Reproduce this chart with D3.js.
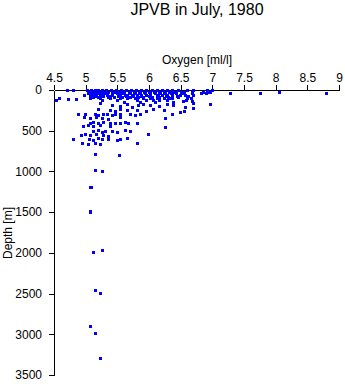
<!DOCTYPE html>
<html><head><meta charset="utf-8">
<script src="https://cdn.jsdelivr.net/npm/d3@7"></script>
<style>
body{margin:0;background:#fff;}
text{font-family:"Liberation Sans",Arial,sans-serif;fill:#000;}
</style></head>
<body><svg id="c" width="345" height="384"></svg>
<script>
const title = "JPVB in July, 1980";
const xLabel = "Oxygen [ml/l]";
const yLabel = "Depth [m]";
const xTicks = [4.5,5,5.5,6,6.5,7,7.5,8,8.5,9];
const yTicks = [0,500,1000,1500,2000,2500,3000,3500];

// observations: oxygen [ml/l] and depth [m], row by row
const oxygen = [
 5.02,5.08,5.14,5.20,5.26,5.32,5.40,5.48,5.56,5.64,5.72,5.80,5.88,5.96,6.04,6.12,6.20,6.28,6.36,6.45,6.60,6.70,6.92,7.00,
 5.05,5.11,5.17,5.23,5.29,5.35,5.44,5.52,5.60,5.68,5.76,5.84,5.92,6.00,6.08,6.16,6.24,6.32,6.40,6.55,6.85,6.97,
 5.03,5.10,5.18,5.25,5.30,5.42,5.50,5.58,5.70,5.78,5.86,5.94,6.02,6.10,6.18,6.26,6.34,6.42,6.52,6.68,6.82,6.90,
 4.97,5.07,5.15,5.22,5.33,5.41,5.55,5.62,5.66,5.73,5.81,5.87,5.96,6.02,6.12,6.20,6.28,6.36,6.49,6.70,6.57,
 5.12,5.20,5.35,5.45,5.58,5.70,5.82,5.90,6.05,6.15,6.30,6.45,
 4.58,4.72,5.07,5.23,5.38,5.54,5.66,5.78,5.91,6.02,6.12,6.23,6.33,6.36,6.60,6.67,
 4.53,4.85,5.25,5.50,5.81,5.96,6.07,6.15,6.28,6.54,6.58,
 5.60,5.86,6.10,6.38,6.68,
 5.23,5.41,5.54,5.66,5.73,5.83,5.91,6.02,6.15,6.28,6.38,6.57,6.70,6.96,
 5.20,5.38,5.46,5.54,5.65,5.81,5.96,6.07,6.23,6.49,6.55,6.70,
 4.88,4.99,5.15,5.20,5.28,5.33,5.41,5.46,5.54,5.70,5.78,5.86,6.36,
 4.97,5.07,5.17,5.25,5.36,5.54,6.25,
 5.07,5.12,5.20,5.28,5.38,5.46,5.54,5.62,5.67,5.81,
 4.96,5.04,5.12,5.23,5.38,6.25,
 5.12,5.20,5.25,5.31,5.41,5.49,5.62,5.70,
 4.92,4.99,5.07,5.17,5.28,5.36,5.99,
 4.80,5.06,5.12,5.20,5.25,5.36,5.49,5.54,5.65,
 4.94,5.03,5.15,5.23,5.81,
 4.70,4.80,7.28,7.75,8.05,8.79,
 5.15,5.52,5.14,5.26,5.07,5.09,5.07,5.07,5.12,5.25,5.14,5.23,5.07,5.15,5.23,
 5.04,5.13,5.19,5.27,5.36,5.46,5.53,5.61,5.69,5.77,5.85,5.93,6.01,6.09,6.17,6.25,6.33,6.41,6.50,6.56,6.68,6.94,
 5.10,5.16,5.28,5.39,5.51,5.63,5.75,5.88,6.00,6.14,6.27,6.44,6.62
];
const depth = [
 5,5,5,5,5,5,5,5,5,5,5,5,5,5,5,5,5,5,5,5,5,5,5,5,
 20,20,20,20,20,20,20,20,20,20,20,20,20,20,20,20,20,20,20,20,20,20,
 40,40,40,40,40,40,40,40,40,40,40,40,40,40,40,40,40,40,40,40,40,40,
 60,60,60,60,60,60,60,60,60,60,60,60,60,60,60,60,60,60,60,60,60,
 80,80,80,80,80,80,80,80,80,80,80,80,
 100,107,102,100,100,100,100,100,100,100,100,100,100,100,100,100,
 123,115,123,123,123,123,123,123,123,130,123,
 145,145,145,145,140,
 165,180,195,170,205,185,175,190,200,170,185,205,160,172,
 230,245,260,235,250,240,255,230,245,270,258,220,
 295,300,290,305,300,295,310,290,300,295,305,290,300,
 335,345,330,340,350,335,345,
 400,395,405,390,400,410,400,395,405,400,
 440,435,445,430,440,450,
 500,495,510,505,500,515,490,500,
 550,545,555,540,550,560,545,
 605,600,610,595,605,600,610,600,595,
 655,660,650,665,655,
 0,0,33,33,28,40,
 786,802,985,999,1187,1195,1482,1500,1993,1969,2460,2497,2902,2990,3287,
 30,30,30,30,30,30,30,30,30,30,30,30,30,30,30,30,30,30,30,30,30,30,
 70,70,70,70,70,70,70,70,70,70,70,70,70
];

const svg = d3.select("#c");
const x = d3.scaleLinear().domain([4.5,9]).range([54,339]);
const y = d3.scaleLinear().domain([0,3500]).range([90,375]);

svg.append("text").attr("x",197).attr("y",15).attr("text-anchor","middle")
  .style("font-size","16px").text(title);

const xa = svg.append("g").attr("transform","translate(0,90)")
  .call(d3.axisTop(x).tickValues(xTicks).tickSize(5).tickSizeOuter(0).tickPadding(3)
    .tickFormat(d=>String(d)));
const ya = svg.append("g").attr("transform","translate(54,0)")
  .call(d3.axisLeft(y).tickValues(yTicks).tickSize(5).tickSizeOuter(0).tickPadding(7)
    .tickFormat(d=>String(d)));
[xa,ya].forEach(g=>{
  g.selectAll("text").style("font-size","12px").style("font-family","'Liberation Sans',Arial,sans-serif");
  g.selectAll("line,path").attr("stroke","#000").attr("stroke-width",1).attr("shape-rendering","crispEdges");
});

svg.append("text").attr("x",197).attr("y",64).attr("text-anchor","middle")
  .style("font-size","12px").text(xLabel);
svg.append("text").attr("transform","translate(12,233) rotate(-90)").attr("text-anchor","middle")
  .style("font-size","12px").text(yLabel);

const pts = oxygen.map((o,i)=>({o,d:depth[i]}));
svg.append("g").selectAll("rect").data(pts).join("rect")
  .attr("x",p=>Math.round(x(p.o))-1).attr("y",p=>Math.round(y(p.d))-1)
  .attr("width",3).attr("height",3).attr("fill","#0000ff").attr("shape-rendering","crispEdges");
</script></body></html>
